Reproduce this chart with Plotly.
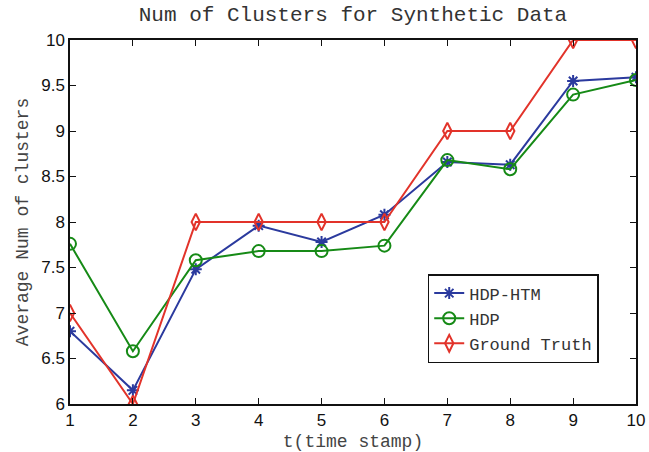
import plotly.graph_objects as go

t = list(range(1, 11))
hdp_htm = [6.80, 6.15, 7.48, 7.96, 7.78, 8.08, 8.66, 8.63, 9.55, 9.59]
hdp = [7.76, 6.58, 7.58, 7.68, 7.68, 7.74, 8.68, 8.58, 9.40, 9.56]
ground_truth = [7, 6, 8, 8, 8, 8, 9, 9, 10, 10]

x_ticks = list(range(1, 11))
y_ticks = [6, 6.5, 7, 7.5, 8, 8.5, 9, 9.5, 10]
y_tick_text = ["6", "6.5", "7", "7.5", "8", "8.5", "9", "9.5", "10"]

mono = "Liberation Mono, Courier New, monospace"
sans = "Liberation Sans, Arial, sans-serif"

fig = go.Figure()
fig.add_trace(go.Scatter(
    x=t, y=hdp_htm, name="HDP-HTM", mode="lines+markers",
    line=dict(color="#2b3a9e", width=2),
    marker=dict(symbol="asterisk-open", size=10, color="#2b3a9e", line=dict(width=2, color="#2b3a9e")),
))
fig.add_trace(go.Scatter(
    x=t, y=hdp, name="HDP", mode="lines+markers",
    line=dict(color="#168a16", width=2),
    marker=dict(symbol="circle-open", size=12, color="#168a16", line=dict(width=2, color="#168a16")),
))
fig.add_trace(go.Scatter(
    x=t, y=ground_truth, name="Ground Truth", mode="lines+markers",
    line=dict(color="#e2332a", width=2),
    marker=dict(symbol="diamond-tall-open", size=12, color="#e2332a", line=dict(width=2, color="#e2332a")),
))

fig.update_layout(
    width=649, height=452,
    margin=dict(l=70, r=13, t=40, b=48),
    paper_bgcolor="white", plot_bgcolor="white",
    title=dict(text="Num of Clusters for Synthetic Data", x=0.5, xref="paper",
               y=1, yref="container", yanchor="top", pad=dict(t=6),
               font=dict(family=mono, size=21, color="#333")),
    xaxis=dict(range=[1, 10], tickvals=x_ticks, ticks="inside", ticklen=6,
               tickcolor="#111", showline=True, linecolor="#111", linewidth=1.5,
               mirror="ticks", showgrid=False, zeroline=False, automargin=False,
               tickfont=dict(family=sans, size=17, color="#111"),
               title=dict(text="t(time stamp)", standoff=6,
                          font=dict(family=mono, size=18, color="#444"))),
    yaxis=dict(range=[6, 10], tickvals=y_ticks, ticktext=y_tick_text, ticks="inside",
               ticklen=6, tickcolor="#111", showline=True, linecolor="#111", linewidth=1.5,
               mirror="ticks", showgrid=False, zeroline=False, automargin=False,
               tickfont=dict(family=sans, size=17, color="#111"),
               title=dict(text="Average Num of clusters", standoff=8,
                          font=dict(family=mono, size=18, color="#444"))),
    legend=dict(x=0.632, y=0.357, xanchor="left", yanchor="top",
                bgcolor="white", bordercolor="#111", borderwidth=1.5,
                font=dict(family=mono, size=17, color="#333"),
                tracegroupgap=0, itemwidth=30),
    showlegend=True,
)

fig.write_html("out.html")
